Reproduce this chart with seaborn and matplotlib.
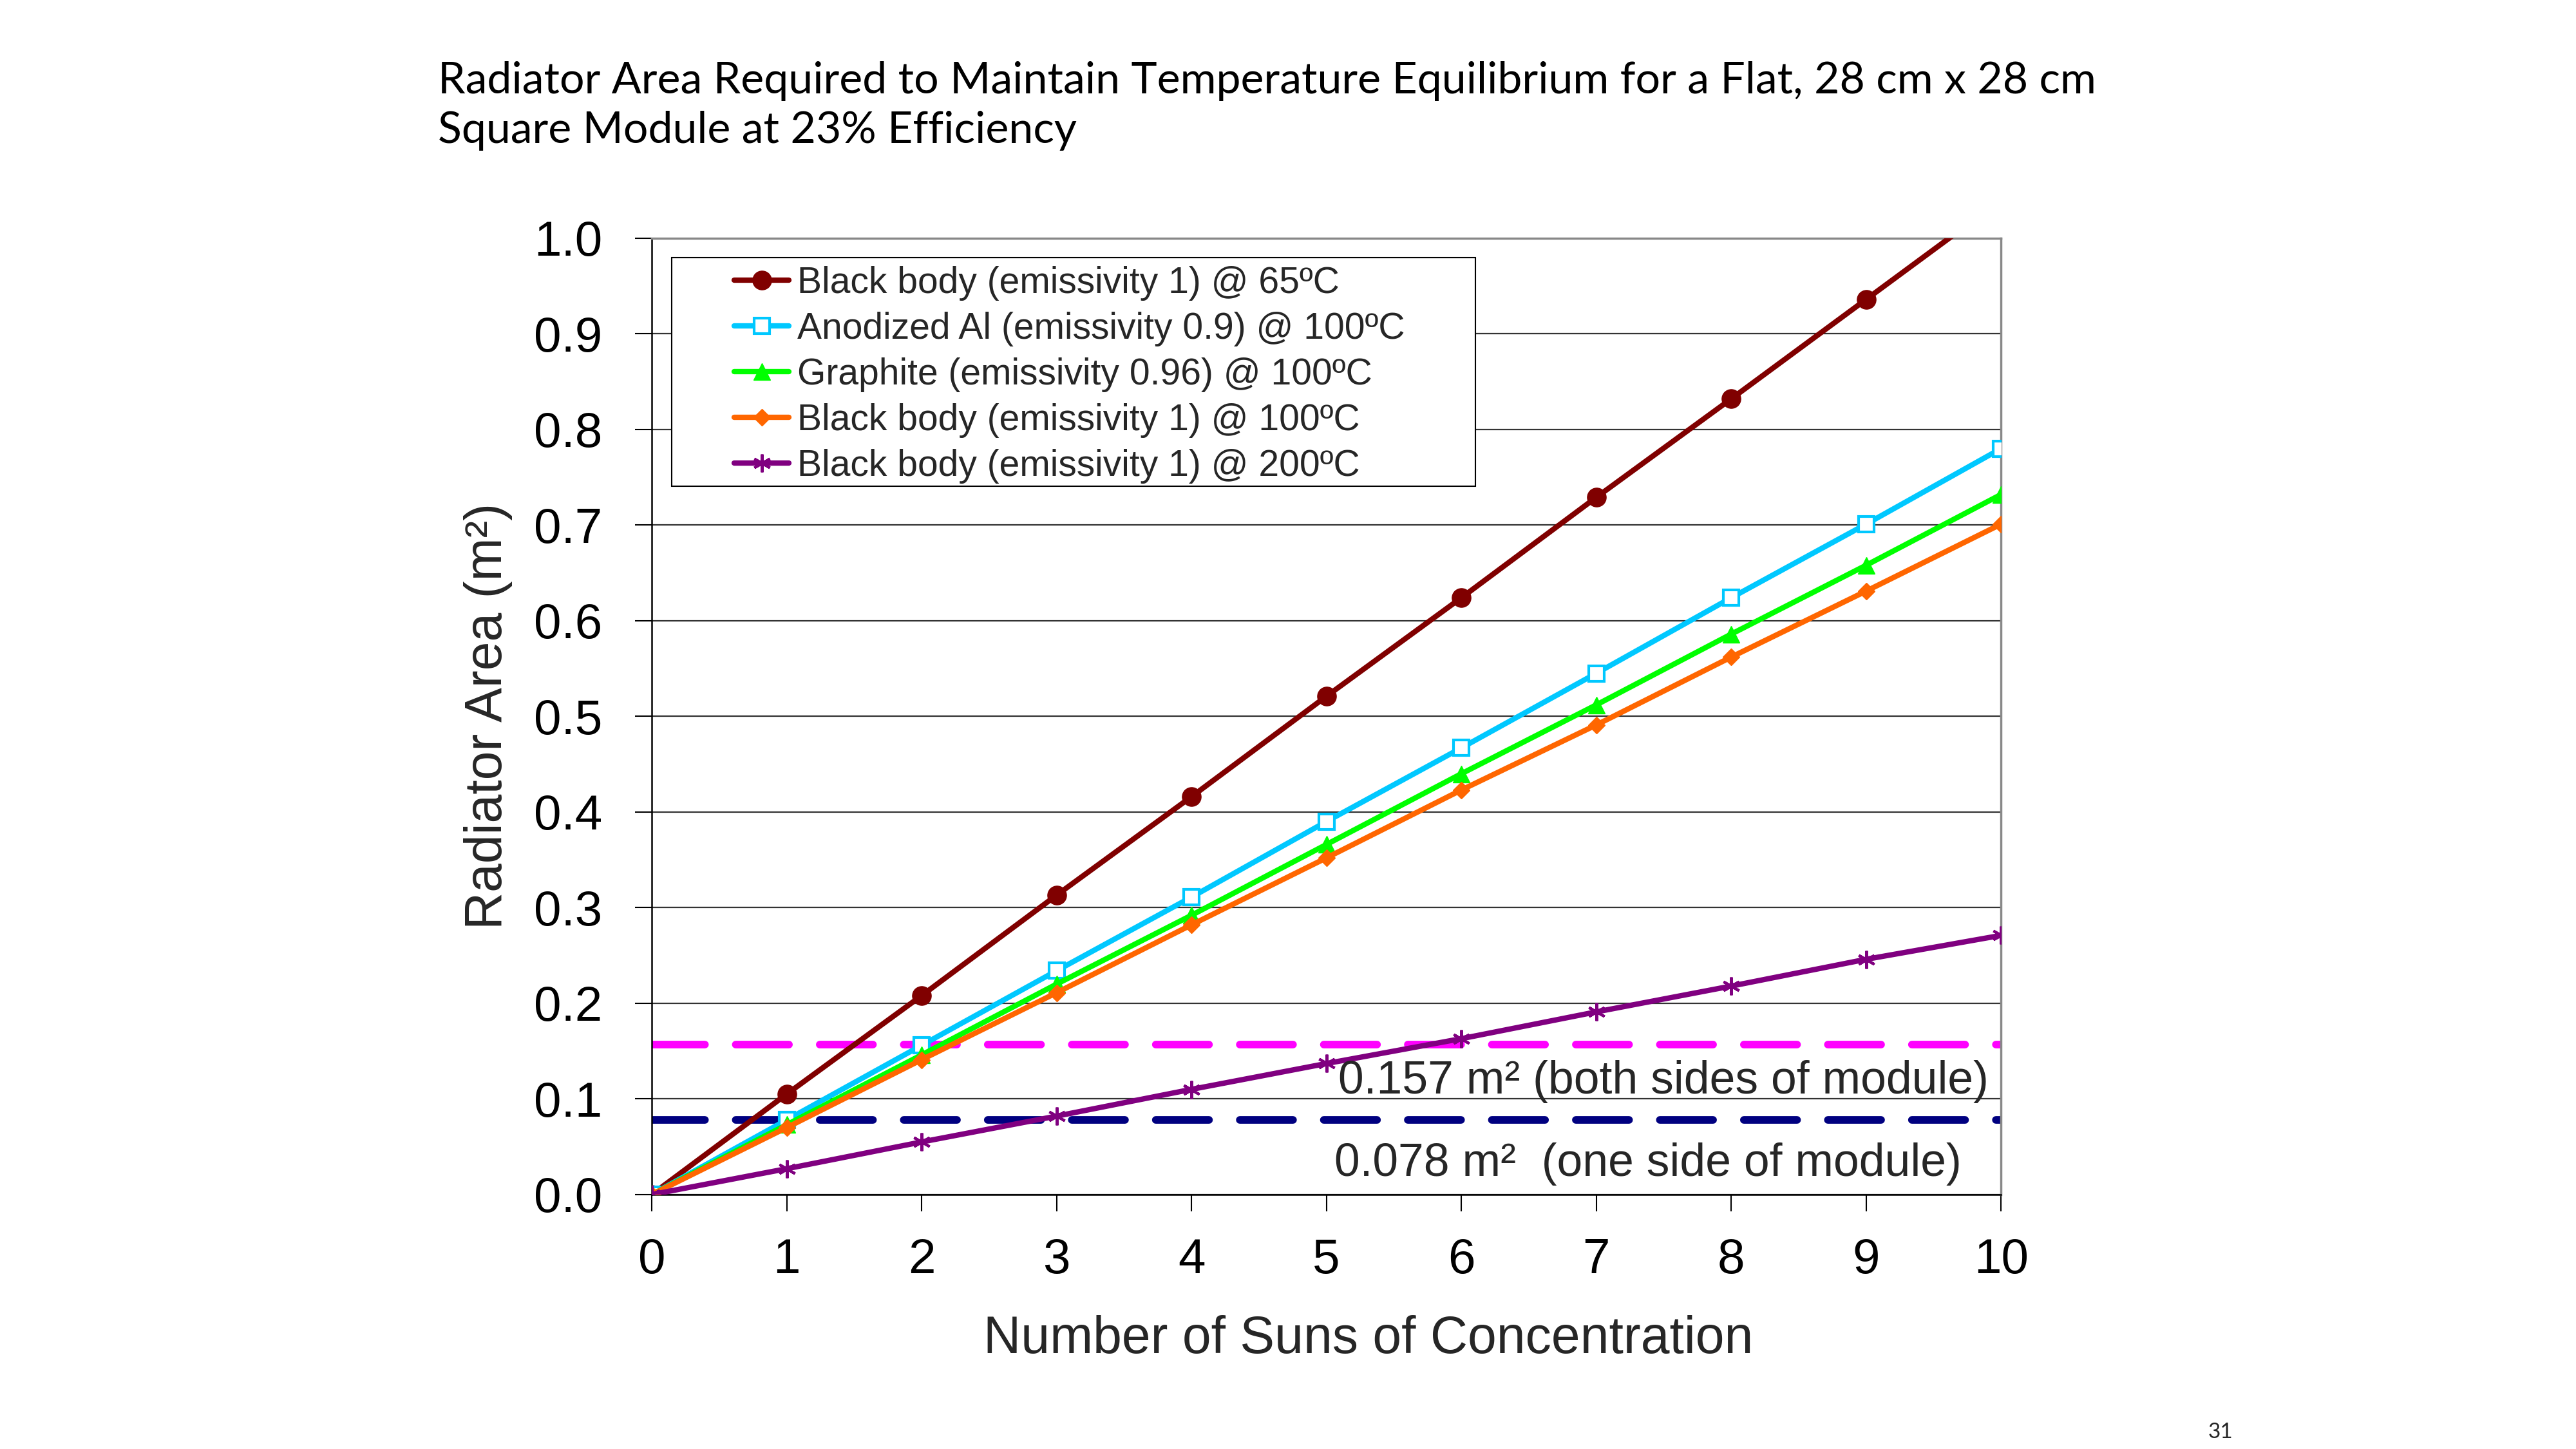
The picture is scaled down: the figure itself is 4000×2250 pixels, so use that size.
import matplotlib
matplotlib.use("Agg")
import matplotlib.pyplot as plt
import matplotlib.font_manager as fm
from matplotlib.patches import Rectangle
from matplotlib.font_manager import FontProperties
import seaborn as sns
import pandas as pd

# ---------------- data ----------------
suns = [0, 1, 2, 3, 4, 5, 6, 7, 8, 9, 10]
bb65 = [0, 0.105, 0.208, 0.313, 0.416, 0.521, 0.624, 0.729, 0.832, 0.936, 1.040]
anod_al = [0, 0.078, 0.156, 0.234, 0.311, 0.390, 0.467, 0.545, 0.624, 0.701, 0.780]
graphite = [0, 0.073, 0.146, 0.220, 0.292, 0.366, 0.440, 0.512, 0.586, 0.658, 0.732]
bb100 = [0, 0.070, 0.141, 0.211, 0.282, 0.352, 0.423, 0.491, 0.562, 0.631, 0.701]
bb200 = [0, 0.027, 0.055, 0.082, 0.110, 0.137, 0.163, 0.191, 0.218, 0.246, 0.271]

series_labels = [
    "Black body (emissivity 1) @ 65ºC",
    "Anodized Al (emissivity 0.9) @ 100ºC",
    "Graphite (emissivity 0.96) @ 100ºC",
    "Black body (emissivity 1) @ 100ºC",
    "Black body (emissivity 1) @ 200ºC",
]
ref_levels = [0.157, 0.078]
ref_labels = ["0.157 m² (both sides of module)", "0.078 m²  (one side of module)"]
y_ticks = [0.0, 0.1, 0.2, 0.3, 0.4, 0.5, 0.6, 0.7, 0.8, 0.9, 1.0]
y_tick_labels = ["0.0", "0.1", "0.2", "0.3", "0.4", "0.5", "0.6", "0.7", "0.8", "0.9", "1.0"]
x_ticks = suns
x_tick_labels = ["0", "1", "2", "3", "4", "5", "6", "7", "8", "9", "10"]
title_lines = ["Radiator Area Required to Maintain Temperature Equilibrium for a Flat, 28 cm x 28 cm",
               "Square Module at 23% Efficiency"]
x_label = "Number of Suns of Concentration"
y_label = "Radiator Area (m²)"
page_number = "31"

# ---------------- style ----------------
sns.set_style("white")
names = {f.name for f in fm.fontManager.ttflist}
has_narrow = "Liberation Sans Narrow" in names
plt.rcParams["font.family"] = ["Liberation Sans", "DejaVu Sans"]

if has_narrow:
    leg_prop = FontProperties(family="Liberation Sans Narrow", size=47)
    ann_family, ann_size = "Liberation Sans Narrow", 57
else:
    leg_prop = FontProperties(family="Liberation Sans", size=41)
    ann_family, ann_size = "Liberation Sans", 51.5

title_family = ["Lato", "DejaVu Sans"]

fig = plt.figure(figsize=(40, 22.5), dpi=100)
ax = fig.add_axes([0.253, 0.1756, 0.5238, 0.66])

styles = [
    dict(color="#800000", marker="o", markersize=21, markerfacecolor="#800000", markeredgecolor="#800000", markeredgewidth=1),
    dict(color="#00C8FF", marker="s", markersize=17, markerfacecolor="white", markeredgecolor="#00C8FF", markeredgewidth=3),
    dict(color="#00FF00", marker="^", markersize=19, markerfacecolor="#00FF00", markeredgecolor="#00FF00", markeredgewidth=1),
    dict(color="#FF6600", marker="D", markersize=13, markerfacecolor="#FF6600", markeredgecolor="#FF6600", markeredgewidth=1),
    dict(color="#800080", marker=(6, 2, 0), markersize=20, markeredgecolor="#800080", markeredgewidth=3),
]
all_series = [bb65, anod_al, graphite, bb100, bb200]

# reference levels (dashed)
ref_colors = ["#FF00FF", "#000080"]
for lvl, c in zip(ref_levels, ref_colors):
    ax.axhline(lvl, color=c, linewidth=8.5, linestyle=(0, (7.0, 4.05)),
               dash_capstyle="round", zorder=2)

handles = []
for vals, lab, st in zip(all_series, series_labels, styles):
    df = pd.DataFrame({"suns": suns, "area": vals})
    sns.lineplot(data=df, x="suns", y="area", ax=ax, linewidth=6, label=lab,
                 legend=False, zorder=4, **st)
    handles.append(ax.lines[-1])

ax.set_xlim(0, 10)
ax.set_ylim(0, 1.0)
ax.set_xticks(x_ticks)
ax.set_xticklabels(x_tick_labels)
ax.set_yticks(y_ticks)
ax.set_yticklabels(y_tick_labels)
ax.tick_params(axis="y", direction="out", length=19, width=1.5, pad=36, labelsize=55, left=True, colors="black")
ax.tick_params(axis="x", direction="out", length=19, width=1.5, pad=29, labelsize=55, bottom=True, colors="black")

ax.yaxis.grid(True, color="#333333", linewidth=1.6)
ax.xaxis.grid(False)
ax.set_axisbelow(True)
for s in ["left", "bottom"]:
    ax.spines[s].set_color("black")
    ax.spines[s].set_linewidth(1.8)
for s in ["top", "right"]:
    ax.spines[s].set_color("#888888")
    ax.spines[s].set_linewidth(2.5)

ax.set_xlabel(x_label, fontsize=58)
ax.xaxis.set_label_coords(0.531, -0.126)
ax.set_ylabel(y_label, fontsize=58)
ax.yaxis.set_label_coords(-0.103, 0.5)

# reference annotations
ax.text(5.09, 0.118, ref_labels[0], fontsize=ann_size, family=[ann_family, "DejaVu Sans"],
        ha="left", va="center", zorder=5)
ax.text(5.06, 0.032, ref_labels[1], fontsize=ann_size, family=[ann_family, "DejaVu Sans"],
        ha="left", va="center", zorder=5)

# legend box + legend
frame = Rectangle((0.26075, 0.6644), 0.312, 0.1578, transform=fig.transFigure,
                  facecolor="white", edgecolor="black", linewidth=1.5, zorder=3)
ax.add_patch(frame)
leg = ax.legend(handles, series_labels, loc="upper left", bbox_to_anchor=(0.285, 0.8165),
                bbox_transform=fig.transFigure, frameon=False, prop=leg_prop,
                borderpad=0, borderaxespad=0, handlelength=1.5, handletextpad=0.22,
                labelspacing=0.3)
leg.set_zorder(6)

# title and page number
fig.text(0.170, 0.9356, title_lines[0], fontsize=49, family=title_family, fontweight="normal",
         color="black", ha="left", va="baseline")
fig.text(0.170, 0.9013, title_lines[1], fontsize=49, family=title_family, fontweight="normal",
         color="black", ha="left", va="baseline")
fig.text(0.862, 0.0116, page_number, fontsize=24, family=title_family, ha="center", va="center")

fig.savefig("out.png", dpi=100, facecolor="white")
